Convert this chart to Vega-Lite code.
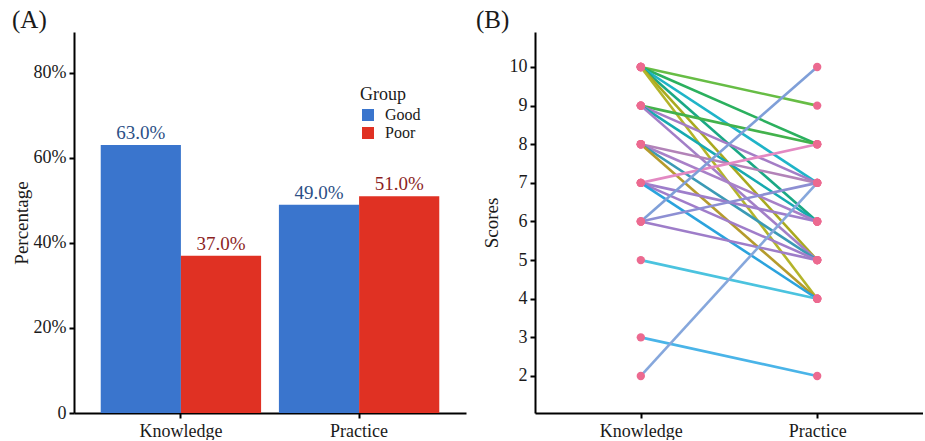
{
  "$schema": "https://vega.github.io/schema/vega-lite/v6.json",
  "padding": {"left": 12, "top": 8, "right": 0, "bottom": 0},
  "background": "white",
  "config": {
    "font": "Liberation Serif",
    "view": {"stroke": null},
    "axis": {
      "labelFont": "Liberation Serif", "labelFontSize": 18, "labelColor": "#1a1a1a",
      "titleFont": "Liberation Serif", "titleFontSize": 19, "titleFontWeight": "normal", "titleColor": "#1a1a1a",
      "domainColor": "#000000", "domainWidth": 2, "tickColor": "#000000", "tickWidth": 2, "tickSize": 5,
      "labelPadding": 3, "grid": false
    },
    "title": {"font": "Liberation Serif", "fontSize": 25, "fontWeight": "normal", "anchor": "start", "color": "#1a1a1a"},
    "concat": {"spacing": 10}
  },
  "datasets": {
    "bars": [
      {"domain": "Knowledge", "Group": "Good", "pct": 0.63, "label": "63.0%"},
      {"domain": "Knowledge", "Group": "Poor", "pct": 0.37, "label": "37.0%"},
      {"domain": "Practice", "Group": "Good", "pct": 0.49, "label": "49.0%"},
      {"domain": "Practice", "Group": "Poor", "pct": 0.51, "label": "51.0%"}
    ],
    "scores": [
      {"id": "1", "test": "Knowledge", "score": 10}, {"id": "1", "test": "Practice", "score": 9},
      {"id": "2", "test": "Knowledge", "score": 10}, {"id": "2", "test": "Practice", "score": 8},
      {"id": "3", "test": "Knowledge", "score": 10}, {"id": "3", "test": "Practice", "score": 7},
      {"id": "4", "test": "Knowledge", "score": 10}, {"id": "4", "test": "Practice", "score": 6},
      {"id": "5", "test": "Knowledge", "score": 10}, {"id": "5", "test": "Practice", "score": 5},
      {"id": "6", "test": "Knowledge", "score": 10}, {"id": "6", "test": "Practice", "score": 4},
      {"id": "7", "test": "Knowledge", "score": 9}, {"id": "7", "test": "Practice", "score": 8},
      {"id": "8", "test": "Knowledge", "score": 9}, {"id": "8", "test": "Practice", "score": 7},
      {"id": "9", "test": "Knowledge", "score": 9}, {"id": "9", "test": "Practice", "score": 6},
      {"id": "10", "test": "Knowledge", "score": 9}, {"id": "10", "test": "Practice", "score": 5},
      {"id": "11", "test": "Knowledge", "score": 8}, {"id": "11", "test": "Practice", "score": 7},
      {"id": "12", "test": "Knowledge", "score": 8}, {"id": "12", "test": "Practice", "score": 6},
      {"id": "13", "test": "Knowledge", "score": 8}, {"id": "13", "test": "Practice", "score": 5},
      {"id": "14", "test": "Knowledge", "score": 8}, {"id": "14", "test": "Practice", "score": 4},
      {"id": "15", "test": "Knowledge", "score": 7}, {"id": "15", "test": "Practice", "score": 8},
      {"id": "16", "test": "Knowledge", "score": 7}, {"id": "16", "test": "Practice", "score": 6},
      {"id": "17", "test": "Knowledge", "score": 7}, {"id": "17", "test": "Practice", "score": 5},
      {"id": "18", "test": "Knowledge", "score": 7}, {"id": "18", "test": "Practice", "score": 4},
      {"id": "19", "test": "Knowledge", "score": 6}, {"id": "19", "test": "Practice", "score": 10},
      {"id": "20", "test": "Knowledge", "score": 6}, {"id": "20", "test": "Practice", "score": 7},
      {"id": "21", "test": "Knowledge", "score": 6}, {"id": "21", "test": "Practice", "score": 5},
      {"id": "22", "test": "Knowledge", "score": 5}, {"id": "22", "test": "Practice", "score": 4},
      {"id": "23", "test": "Knowledge", "score": 3}, {"id": "23", "test": "Practice", "score": 2},
      {"id": "24", "test": "Knowledge", "score": 2}, {"id": "24", "test": "Practice", "score": 7}
    ]
  },
  "hconcat": [
    {
      "width": 392,
      "height": 381,
      "title": {"text": "(A)", "frame": "bounds", "offset": -1},
      "data": {"name": "bars"},
      "resolve": {"scale": {"color": "independent"}},
      "layer": [
        {
          "mark": {"type": "bar"},
          "encoding": {
            "x": {"field": "domain", "type": "nominal", "sort": ["Knowledge", "Practice"],
                  "scale": {"paddingInner": 0.1, "paddingOuter": 0.15},
                  "axis": {"title": null, "labelAngle": 0, "bandPosition": 0.5, "labelPadding": 4}},
            "xOffset": {"field": "Group", "type": "nominal", "scale": {"paddingInner": 0, "paddingOuter": 0}},
            "y": {"field": "pct", "type": "quantitative",
                  "scale": {"domain": [0, 0.896], "nice": false, "zero": true},
                  "axis": {"title": "Percentage", "values": [0, 0.2, 0.4, 0.6, 0.8],
                           "labelExpr": "datum.value == 0 ? '0' : format(datum.value, '.0%')", "titlePadding": 2}},
            "color": {"field": "Group", "type": "nominal",
                      "scale": {"domain": ["Good", "Poor"], "range": ["#3a75cd", "#e03123"]},
                      "legend": {"title": "Group", "orient": "none", "legendX": 286, "legendY": 54,
                                 "titleFont": "Liberation Serif", "titleFontSize": 18, "titleFontWeight": "normal",
                                 "titleColor": "#1a1a1a", "titlePadding": 3,
                                 "labelFont": "Liberation Serif", "labelFontSize": 16, "labelColor": "#1a1a1a",
                                 "labelOffset": 9, "symbolType": "square", "symbolSize": 144,
                                 "symbolStrokeWidth": 0, "rowPadding": 2}}
          }
        },
        {
          "mark": {"type": "text", "dy": -6, "baseline": "alphabetic", "fontSize": 19, "font": "Liberation Serif"},
          "encoding": {
            "x": {"field": "domain", "type": "nominal", "sort": ["Knowledge", "Practice"]},
            "xOffset": {"field": "Group", "type": "nominal"},
            "y": {"field": "pct", "type": "quantitative"},
            "text": {"field": "label"},
            "color": {"field": "Group", "type": "nominal",
                      "scale": {"domain": ["Good", "Poor"], "range": ["#2c4f86", "#8c1f1f"]},
                      "legend": null}
          }
        }
      ]
    },
    {
      "width": 388,
      "height": 381,
      "title": {"text": "(B)", "frame": "bounds", "offset": -1, "dx": -6},
      "data": {"name": "scores"},
      "layer": [
        {
          "mark": {"type": "line", "strokeWidth": 2.6},
          "encoding": {
            "x": {"field": "test", "type": "nominal", "sort": ["Knowledge", "Practice"],
                  "scale": {"type": "point", "padding": 0.6},
                  "axis": {"title": null, "labelAngle": 0, "labelPadding": 4}},
            "y": {"field": "score", "type": "quantitative",
                  "scale": {"domain": [1.042, 10.906], "nice": false, "zero": false},
                  "axis": {"title": "Scores", "values": [2, 3, 4, 5, 6, 7, 8, 9, 10], "titlePadding": 8}},
            "color": {"field": "id", "type": "nominal",
                      "scale": {"domain": ["1","2","3","4","5","6","7","8","9","10","11","12","13","14","15","16","17","18","19","20","21","22","23","24"],
                                "range": ["#67bd45","#2bb05e","#1fb4c8","#1aa884","#a9a91f","#b4b42a","#43b24c","#a47dc6","#16aab0","#a27fc7","#b283b8","#a880c8","#3b9ab5","#b59b2c","#e389c2","#9e7ecb","#a07dca","#2ba3dd","#7f9fd8","#8d8fd3","#9e7dc9","#4bc3df","#4ab4e8","#86a7dc"]},
                      "legend": null}
          }
        },
        {
          "mark": {"type": "point", "filled": true, "size": 70, "color": "#ec6a90", "opacity": 1},
          "encoding": {
            "x": {"field": "test", "type": "nominal", "sort": ["Knowledge", "Practice"]},
            "y": {"field": "score", "type": "quantitative"}
          }
        }
      ]
    }
  ]
}
